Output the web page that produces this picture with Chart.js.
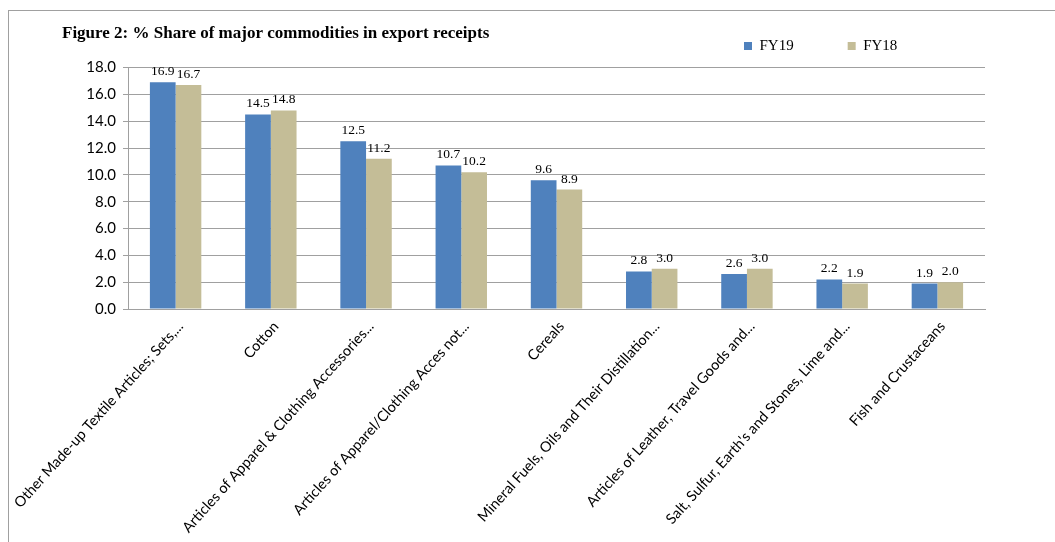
<!DOCTYPE html>
<html>
<head>
<meta charset="utf-8">
<script src="https://cdn.jsdelivr.net/npm/chart.js@4"></script>
<style>
  html, body { margin: 0; padding: 0; background: #fff; overflow: hidden; }
  #wrap { position: relative; width: 1055px; height: 542px; }
  #frame { position: absolute; left: 8px; top: 10px; width: 2000px; height: 2000px;
           border-left: 1.5px solid #a0a0a0; border-top: 1.5px solid #a0a0a0; box-sizing: border-box; }
  canvas { position: absolute; left: 0; top: 0; }
</style>
</head>
<body>
<div id="wrap">
  <div id="frame"></div>
  <canvas id="c" width="1055" height="542"></canvas>
</div>
<script>
const categories = [
  "Other Made-up Textile Articles; Sets,...",
  "Cotton",
  "Articles of Apparel & Clothing Accessories...",
  "Articles of Apparel/Clothing Acces not...",
  "Cereals",
  "Mineral Fuels, Oils and Their Distillation...",
  "Articles of Leather, Travel Goods and...",
  "Salt, Sulfur, Earth's and Stones, Lime and...",
  "Fish and Crustaceans"
];
const fy19 = [16.9, 14.5, 12.5, 10.7, 9.6, 2.8, 2.6, 2.2, 1.9];
const fy18 = [16.7, 14.8, 11.2, 10.2, 8.9, 3.0, 3.0, 1.9, 2.0];
const seriesNames = ["FY19", "FY18"];
const yTicks = { min: 0, max: 18, step: 2 };
const titleText = "Figure 2: % Share of major commodities in export receipts";

const LEGEND_PAD = 54;

const legendPlacer = {
  id: 'legendPlacer',
  beforeUpdate(chart) {
    const lg = chart.legend;
    if (lg && !lg._patched) {
      const orig = lg.fit.bind(lg);
      lg.fit = function () { orig(); this.height = 0; };
      lg._patched = true;
    }
  },
  beforeDraw(chart) {
    const lg = chart.legend;
    if (!lg) return;
    lg.left = 744 - LEGEND_PAD;
    lg.right = lg.left + 400;
    lg.top = 38.5 - LEGEND_PAD;
    lg.bottom = lg.top + 200;
  }
};

const valueLabels = {
  id: 'valueLabels',
  afterDatasetsDraw(chart) {
    const ctx = chart.ctx;
    ctx.save();
    ctx.font = '13.5px "Liberation Serif", "Times New Roman", serif';
    ctx.fillStyle = '#000';
    ctx.textAlign = 'center';
    ctx.textBaseline = 'alphabetic';
    chart.data.datasets.forEach((ds, di) => {
      const meta = chart.getDatasetMeta(di);
      meta.data.forEach((el, i) => {
        ctx.fillText(ds.data[i].toFixed(1), el.x, el.y - 7);
      });
    });
    ctx.restore();
  }
};

new Chart(document.getElementById('c'), {
  type: 'bar',
  data: {
    labels: categories,
    datasets: [
      { label: seriesNames[0], data: fy19, backgroundColor: '#4F81BD', borderWidth: 0 },
      { label: seriesNames[1], data: fy18, backgroundColor: '#C4BD97', borderWidth: 0 }
    ]
  },
  options: {
    responsive: false,
    animation: false,
    devicePixelRatio: 1,
    layout: { padding: { left: 62, right: 70, top: 14, bottom: 0 } },
    datasets: { bar: { categoryPercentage: 0.54, barPercentage: 1.0 } },
    plugins: {
      title: {
        display: true,
        text: titleText,
        align: 'start',
        color: '#000',
        font: { family: '"Liberation Serif", "Times New Roman", serif', size: 17, weight: 'bold' },
        padding: { top: 9, bottom: 24.1 }
      },
      legend: {
        display: true,
        position: 'top',
        align: 'start',
        labels: {
          boxWidth: 8, boxHeight: 8, padding: LEGEND_PAD, color: '#000',
          font: { family: '"Liberation Serif", "Times New Roman", serif', size: 15 }
        }
      },
      tooltip: { enabled: false }
    },
    scales: {
      x: {
        grid: { display: false, drawTicks: false },
        border: { display: true, color: '#a0a0a0', width: 1 },
        ticks: {
          autoSkip: false, minRotation: 48, maxRotation: 48, padding: 9, labelOffset: 5,
          color: '#000',
          font: { family: 'Lato, "Open Sans", sans-serif', size: 14.5 }
        },
        afterFit(scale) { scale.height = 233; scale.paddingLeft = 0; scale.paddingRight = 0; }
      },
      y: {
        min: yTicks.min, max: yTicks.max,
        grid: { color: '#a0a0a0', lineWidth: 1, drawTicks: true, tickLength: 5 },
        border: { display: true, color: '#a0a0a0', width: 1 },
        ticks: {
          stepSize: yTicks.step, padding: 7, color: '#000',
          font: { family: 'Lato, "Open Sans", sans-serif', size: 15 },
          callback: (v) => Number(v).toFixed(1)
        },
        afterFit(scale) { scale.width = 66; scale.paddingTop = 0; scale.paddingBottom = 0; }
      }
    }
  },
  plugins: [legendPlacer, valueLabels]
});
</script>
</body>
</html>
